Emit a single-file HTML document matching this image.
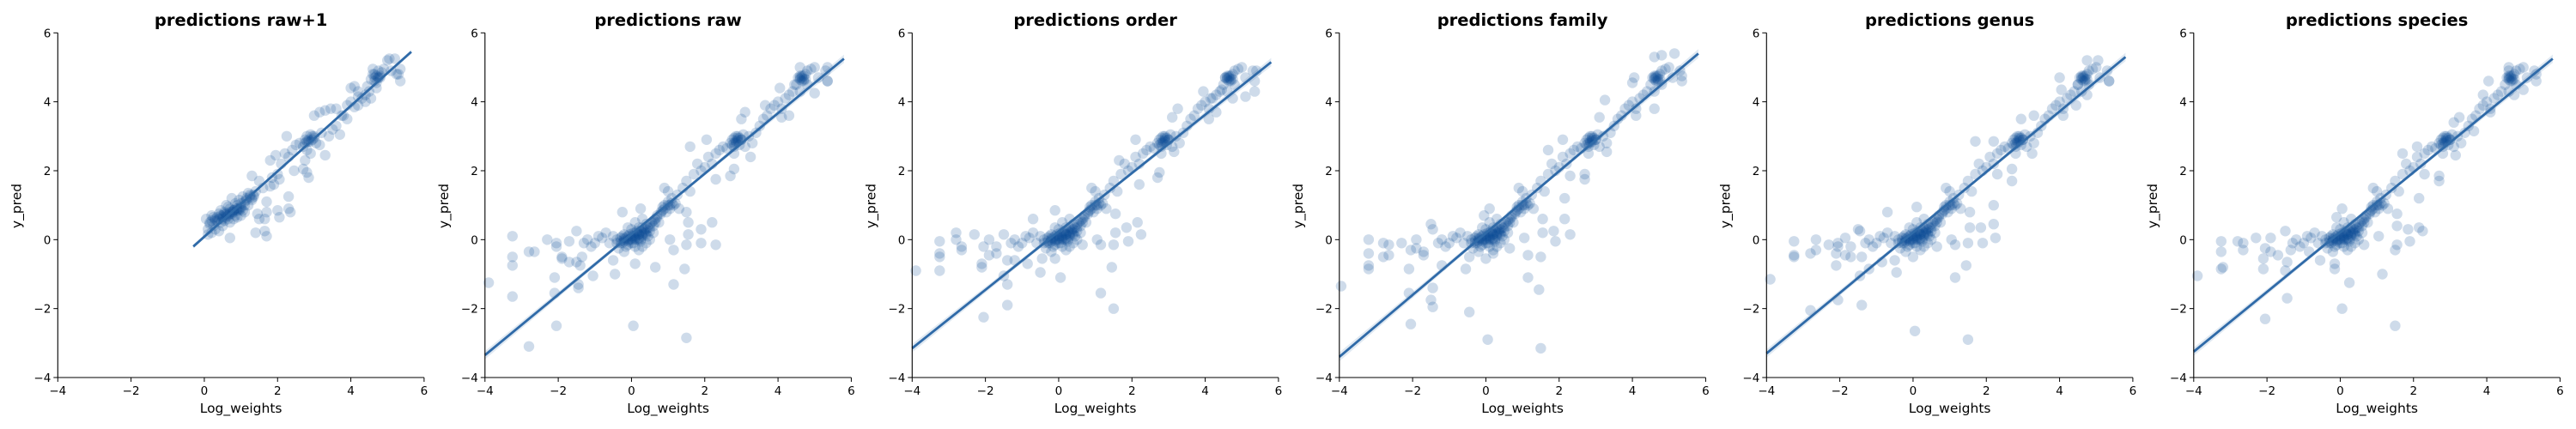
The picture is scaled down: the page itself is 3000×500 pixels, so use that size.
<!DOCTYPE html>
<html><head><meta charset="utf-8">
<style>
html,body{margin:0;padding:0;background:#fff;}
svg{display:block;font-family:"DejaVu Sans","Liberation Sans",sans-serif;}
</style></head>
<body>
<svg id="chart" width="3000" height="500" viewBox="0 0 3000 500" xmlns="http://www.w3.org/2000/svg"></svg>
<script>
const titles = ["predictions raw+1","predictions raw","predictions order","predictions family","predictions genus","predictions species"];
const xTicks = [-4,-2,0,2,4,6];
const yTicks = [-4,-2,0,2,4,6];
const xTickLabels = ["\u22124","\u22122","0","2","4","6"];
const yTickLabels = ["\u22124","\u22122","0","2","4","6"];
const fitX0 = [-0.3,-4,-4,-4,-4,-4];
const fitY0 = [-0.2,-3.35,-3.15,-3.4,-3.3,-3.25];
const fitX1 = [5.65,5.8,5.8,5.8,5.8,5.8];
const fitY1 = [5.45,5.25,5.15,5.4,5.3,5.25];
const ciHalf = [0.06,0.12,0.12,0.13,0.12,0.12];

const p1x = [0.05,0.1,0.15,0.2,0.25,0.3,0.35,0.4,0.45,0.5,0.55,0.6,0.65,0.7,0.75,0.8,0.85,0.9,0.95,1.0,1.05,1.1,1.15,1.2,1.25,1.3,1.35,1.4,0.1,0.2,0.3,0.5,0.7,0.6,0.75,0.9,1.0,1.1,0.4,0.25,0.55,0.85,0.95,1.05,1.2,0.45,0.65,0.8,
0.7,1.4,1.65,1.7,1.65,1.7,1.5,1.45,2.0,2.05,2.3,2.35,2.3,1.7,1.3,1.5,
1.6,1.8,1.9,1.85,2.0,2.05,1.8,1.95,2.1,2.2,2.3,2.4,2.5,2.45,2.25,2.6,2.7,2.75,2.8,2.85,2.9,2.95,3.0,3.05,2.8,2.9,2.7,2.8,2.85,2.75,3.15,3.3,3.2,3.4,3.5,3.6,3.7,3.0,3.15,3.3,3.45,3.6,3.75,3.9,4.0,4.1,4.2,4.3,4.0,4.1,4.2,4.4,4.45,4.5,4.55,4.6,4.65,4.7,4.75,4.8,4.85,4.9,4.6,4.7,4.55,5.0,5.05,5.2,5.1,5.25,5.35,5.35,5.3,4.65,4.75,3.9,3.8,4.2,4.4,
0.3,0.4,0.5,0.6,0.7,0.8,0.9,1.0,1.1,0.35,0.45,0.55,0.65,0.75,0.85,0.95,0.2,0.15,0.5,0.6,0.7,0.8,0.9,1.0,2.85,2.9,2.95,3.0,2.8,2.75,4.7,4.75,4.65,4.8,1.15,1.25,1.35,1.3];
const p1y = [0.6,0.3,0.5,0.7,0.4,0.6,0.55,0.75,0.5,0.65,0.8,0.7,0.6,0.9,0.75,0.85,0.7,1.0,0.9,1.05,0.85,1.1,1.2,1.0,1.3,1.15,1.25,1.4,0.15,0.2,0.3,0.4,0.5,1.0,1.2,0.65,0.7,0.8,0.25,0.65,0.55,1.05,1.15,1.25,1.35,0.85,0.95,0.6,
0.05,0.2,0.25,0.1,0.6,0.8,0.6,0.75,0.85,0.65,0.9,0.8,1.25,1.1,1.85,1.7,
1.5,1.55,1.6,1.8,1.9,1.75,2.3,2.45,2.2,2.5,2.4,2.6,2.75,2.0,3.0,2.8,2.7,2.9,3.0,2.85,3.05,2.9,3.0,2.8,2.6,2.5,2.05,1.95,1.8,2.3,2.75,2.45,3.1,3.0,3.2,3.3,3.05,3.6,3.7,3.75,3.8,3.8,3.6,3.9,4.0,3.85,4.15,4.1,4.4,4.45,4.3,4.2,4.45,4.3,4.65,4.8,4.7,4.55,4.9,4.75,4.85,4.95,4.95,4.4,4.1,5.2,5.25,5.25,4.9,4.8,4.95,4.6,4.8,4.6,4.7,3.5,3.6,3.9,4.0,
0.55,0.6,0.7,0.75,0.8,0.85,0.9,0.95,1.0,0.65,0.7,0.75,0.7,0.8,0.9,0.85,0.55,0.45,0.6,0.65,0.75,0.8,0.85,0.9,2.9,2.85,3.0,2.95,2.85,2.8,4.75,4.7,4.8,4.7,1.15,1.25,1.3,1.2];

const coreX = [-0.4,-0.3,-0.2,-0.1,0,0.1,0.2,0.3,0.4,-0.25,-0.15,-0.05,0.05,0.15,0.25,0.35,0.45,0.5,0.55,0.6,0.65,0.7,0.0,0.1,0.2,-0.35,-0.5,-0.6,-0.7,-0.8,-0.9,-1.0,-1.1,-1.2,-1.3,0.3,0.4,0.5,0.6,0.75,0.8,0.85,0.9,0.95,1.0,1.05,1.1,1.15,1.2,1.25,1.0,0.9,1.3,1.4,1.5,1.6,1.7,1.8,1.9,2.0,2.1,2.2,2.3,2.4,2.5,2.6,2.7,2.75,2.8,2.85,2.9,2.95,3.0,3.05,2.8,2.9,3.1,3.2,3.3,3.4,3.5,3.6,3.7,3.8,3.9,4.0,4.1,4.2,4.3,4.4,4.5,4.55,4.6,4.65,4.7,4.75,4.8,4.9,5.0,5.1,5.3,5.35,4.6,4.8,0.3,0.1,-0.1,0.2,-0.2,0.4,
-0.3,-0.1,0.1,0.3,0.0,0.2,-0.2,0.15,0.35,0.05,2.85,2.9,2.8,4.65,4.7,4.6];
const coreY = [0.0,-0.1,0.05,-0.05,0,0.1,0.05,0.15,0.2,0.1,-0.2,0.15,-0.1,0.25,-0.05,0.3,0.1,0.35,0.5,0.4,0.6,0.7,0.3,-0.2,0.35,-0.25,0.1,-0.1,0.2,0.05,0.1,-0.1,-0.2,0.0,-0.1,-0.2,0.45,0.0,0.2,0.5,0.8,0.95,1.0,0.8,1.1,0.9,1.2,1.0,1.05,1.3,1.4,1.5,0.9,1.5,1.7,1.4,1.9,2.2,2.0,2.1,2.4,2.2,2.5,2.6,2.7,2.65,2.8,2.9,2.7,3.0,2.85,2.75,2.9,3.05,2.5,2.95,2.7,3.0,2.8,3.1,3.3,3.5,3.6,3.8,3.9,4.0,3.8,4.1,4.2,4.3,4.5,4.7,4.65,4.75,4.6,4.8,4.9,4.95,5.0,4.7,4.9,4.6,4.3,4.5,0.6,0.5,0.35,-0.3,-0.35,-0.1,
0.05,0.0,0.05,0.2,0.1,0.15,-0.05,0.0,0.25,0.2,2.8,2.9,2.95,4.7,4.65,4.75];
// extra dense cluster points (panels 2-6)
const denseX = [-0.3,-0.2,-0.1,0.0,0.1,0.2,0.3,0.4,-0.25,-0.15,-0.05,0.05,0.15,0.25,0.35,0.45,-0.2,0.0,0.2,0.4,0.1,0.3,0.5,0.6,0.7,0.8,0.9,1.0,1.1,0.65,0.85,1.05,2.75,2.85,2.95,3.0,2.8,2.9,4.6,4.7,4.75,4.65,-0.4,-0.1,0.25,0.5];
const denseY = [-0.05,0.0,0.1,0.05,0.0,0.15,0.1,0.3,-0.1,0.05,0.0,0.1,0.2,0.25,0.2,0.35,0.15,-0.1,0.0,0.15,0.2,0.35,0.45,0.55,0.65,0.75,0.9,1.0,1.05,0.5,0.85,1.0,2.75,2.85,2.95,2.9,2.8,3.0,4.7,4.75,4.65,4.6,-0.1,-0.15,0.0,0.25];

const p2x = [-3.9,-3.25,-3.25,-3.25,-3.25,-2.8,-2.65,-2.8,-2.3,-2.05,-2.05,-2.1,-2.1,-2.05,-1.9,-1.9,-1.7,-1.7,-1.5,-1.5,-1.4,-1.35,-1.45,-1.45,-1.05,-0.45,-0.5,0.05,0.1,0.65,1.05,1.15,1.15,1.45,1.5,1.55,1.55,1.9,1.9,2.2,2.3,1.5,1.5,-0.25,0.25,2.3,1.6,2.05,2.7,2.8,3.25,3.1,3.0,3.65,4.05,4.1,4.3,4.45,4.6,5.0,5.35,5.35];
const p2y = [-1.25,0.1,-0.5,-0.75,-1.65,-0.35,-0.35,-3.1,0.0,-0.1,-0.2,-1.1,-1.55,-2.5,-0.5,-0.55,-0.05,-0.65,0.25,-0.65,-0.75,-0.5,-1.3,-1.4,-1.05,-1.0,-0.6,-2.5,-0.7,-0.8,0.0,-0.3,-1.3,-0.85,-0.15,0.15,0.5,0.3,-0.1,0.5,-0.15,-2.85,0.8,0.8,0.9,1.75,2.7,2.9,1.85,2.05,2.4,3.7,3.5,3.9,4.4,3.55,3.6,4.5,5.0,4.25,4.6,5.0];
const p3x = [-3.9,-3.25,-3.25,-3.25,-3.25,-2.8,-2.8,-2.65,-2.65,-2.3,-2.05,-2.1,-2.1,-2.05,-1.9,-1.9,-1.7,-1.7,-1.5,-1.4,-1.4,-1.4,-1.5,-1.2,-0.85,-0.5,-0.45,0.05,-0.1,0.65,1.05,1.15,1.15,1.45,1.5,1.55,1.55,1.85,1.9,2.15,2.25,1.5,-0.7,-0.1,2.2,1.65,2.1,2.7,2.75,3.15,3.25,3.1,3.95,4.15,4.1,4.3,4.45,4.55,5.1,5.35,5.4,4.75];
const p3y = [-0.9,-0.05,-0.4,-0.5,-0.9,0.2,0.0,-0.2,-0.3,0.15,-0.2,-0.7,-0.8,-2.25,0.0,-0.45,-0.2,-0.4,0.15,-0.6,-1.3,-1.9,-1.05,-0.6,-0.7,-0.95,-0.55,-1.1,-0.55,-0.15,0.0,-0.15,-1.55,-0.8,-0.15,0.2,0.75,0.35,-0.05,0.5,0.15,-2.0,0.6,0.85,1.6,2.3,2.9,1.8,1.95,2.55,3.8,3.55,4.3,4.1,3.5,3.7,4.35,4.7,4.15,4.3,4.9,4.1];
const p4x = [-3.95,-3.2,-3.2,-3.2,-3.2,-2.8,-2.8,-2.65,-2.65,-2.3,-2.05,-1.9,-2.1,-2.1,-2.05,-1.9,-1.7,-1.7,-1.5,-1.45,-1.45,-1.45,-1.5,-1.2,-0.55,-0.45,-0.45,0.05,0.0,0.2,0.65,1.05,1.15,1.15,1.45,1.5,1.55,1.55,1.85,1.9,2.15,2.3,1.5,-0.05,0.1,2.15,2.3,1.7,2.1,2.7,2.7,3.3,3.25,3.1,4.0,4.05,4.1,4.6,4.6,4.8,5.15,5.35];
const p4y = [-1.35,0.0,-0.4,-0.75,-0.85,-0.1,-0.5,-0.15,-0.45,-0.1,-0.3,0.0,-0.85,-1.55,-2.45,-0.25,-0.35,-0.45,0.45,0.3,-1.4,-1.95,-1.75,-0.75,-0.85,-2.1,-0.5,-2.9,-0.55,-0.4,-0.25,0.05,-0.45,-1.1,-1.45,-0.5,0.2,0.6,0.25,-0.05,0.6,0.15,-3.15,0.7,0.9,1.2,1.85,2.6,2.9,1.75,1.9,2.55,4.05,3.55,4.55,4.7,3.6,3.8,5.3,5.35,5.4,4.75];
const p5x = [-3.9,-3.25,-3.25,-3.25,-2.8,-2.65,-2.65,-2.8,-2.3,-2.05,-2.05,-2.1,-2.1,-2.05,-1.85,-1.85,-1.7,-1.7,-1.5,-1.45,-1.45,-1.4,-1.4,-1.2,-0.85,-0.45,-0.5,0.05,0.0,0.65,1.05,1.15,1.15,1.45,1.5,1.55,1.55,1.85,1.9,2.2,2.25,1.5,-0.7,0.1,2.2,2.3,1.7,2.2,2.7,2.7,3.25,3.3,2.95,4.0,4.05,4.1,4.45,4.5,4.75,5.05,5.35,4.75];
const p5y = [-1.15,-0.05,-0.45,-0.5,-0.4,0.0,-0.3,-2.05,-0.15,-0.1,-0.2,-0.75,-0.4,-1.75,0.05,-0.45,-0.2,-0.5,0.3,0.25,-1.05,-1.9,-0.5,-0.85,-0.65,-0.95,-0.6,-2.65,-0.5,-0.2,0.0,-0.15,-1.1,-0.75,-0.1,0.35,0.8,0.35,-0.1,0.45,0.05,-2.9,0.8,0.95,1.0,1.9,2.85,2.85,1.7,2.05,2.5,3.6,3.5,4.7,4.35,3.6,3.9,4.5,5.2,5.2,4.6,4.2];
const p6x = [-3.9,-3.25,-3.25,-3.25,-3.2,-2.8,-2.65,-2.65,-2.3,-2.05,-2.1,-2.1,-2.05,-1.9,-1.9,-1.7,-1.5,-1.45,-1.45,-1.5,-1.35,-0.85,-0.55,-0.15,-0.15,0.05,0.25,0.65,1.05,1.15,1.5,1.55,1.55,1.55,1.85,1.9,2.15,2.25,1.5,-0.1,0.05,2.15,2.7,2.7,2.3,1.7,2.1,3.15,3.1,3.25,3.65,4.05,3.9,4.1,4.6,4.6,5.0,5.35,4.75];
const p6y = [-1.05,-0.05,-0.35,-0.85,-0.8,-0.05,-0.1,-0.3,0.05,-0.25,-0.55,-0.85,-2.3,0.05,-0.35,-0.45,0.25,-0.65,-1.7,-0.9,-0.3,-0.35,-0.6,-0.85,-0.7,-2.0,-1.25,-0.15,0.1,-1.0,-0.3,-0.15,0.4,0.75,0.3,-0.05,0.35,0.25,-2.5,0.65,0.9,1.2,1.7,1.85,1.9,2.5,2.7,2.45,3.4,3.55,3.15,4.6,4.2,3.7,4.9,5.0,4.35,4.8,4.2];

const NS = "http://www.w3.org/2000/svg";
const svg = document.getElementById("chart");
const panelLeft0 = 67.3, panelStep = 497.5, panelW = 426.6, plotTop = 38.3, plotBottom = 440;
const xMin = -4, xMax = 6, yMin = -4, yMax = 6;
const ptColor = "#084a94", lineColor = "#2f6aa8";
const sharedX = coreX.concat(denseX), sharedY = coreY.concat(denseY);
const panelsX = [p1x, sharedX.concat(p2x), sharedX.concat(p3x), sharedX.concat(p4x), sharedX.concat(p5x), sharedX.concat(p6x)];
const panelsY = [p1y, sharedY.concat(p2y), sharedY.concat(p3y), sharedY.concat(p4y), sharedY.concat(p5y), sharedY.concat(p6y)];

function mk(tag, attrs, parent) {
  const e = document.createElementNS(NS, tag);
  for (const k in attrs) e.setAttribute(k, attrs[k]);
  parent.appendChild(e);
  return e;
}

for (let i = 0; i < 6; i++) {
  const L = panelLeft0 + panelStep * i, R = L + panelW;
  const sx = v => L + (v - xMin) / (xMax - xMin) * (R - L);
  const sy = v => plotBottom - (v - yMin) / (yMax - yMin) * (plotBottom - plotTop);
  const g = mk("g", {}, svg);
  
  

  const t = mk("text", {x: (L + R) / 2, y: 30, "text-anchor": "middle", "font-size": "19.5", "font-weight": "bold", fill: "#000"}, g);
  
  
  t.textContent = titles[i];

  const pts = mk("g", {}, g);
  
  
  const xs = panelsX[i], ys = panelsY[i];
  for (let k = 0; k < xs.length; k++) {
    const c = mk("circle", {cx: sx(xs[k]).toFixed(1), cy: sy(ys[k]).toFixed(1), r: 6.2, fill: ptColor, "fill-opacity": 0.2}, pts);
    
    
  }

  const h = ciHalf[i], hm = h * 0.3;
  const xm = (fitX0[i] + fitX1[i]) / 2, ym = (fitY0[i] + fitY1[i]) / 2;
  const band = mk("polygon", {points: [
    [sx(fitX0[i]), sy(fitY0[i] + h)], [sx(xm), sy(ym + hm)], [sx(fitX1[i]), sy(fitY1[i] + h)],
    [sx(fitX1[i]), sy(fitY1[i] - h)], [sx(xm), sy(ym - hm)], [sx(fitX0[i]), sy(fitY0[i] - h)]
  ].map(p => p[0].toFixed(1) + "," + p[1].toFixed(1)).join(" "), fill: lineColor, "fill-opacity": 0.15}, g);
  
  

  const ln = mk("line", {x1: sx(fitX0[i]), y1: sy(fitY0[i]), x2: sx(fitX1[i]), y2: sy(fitY1[i]), stroke: lineColor, "stroke-width": 2.8}, g);
  
  

  const ya = mk("line", {x1: L, y1: plotTop, x2: L, y2: plotBottom, stroke: "#000", "stroke-width": 1.1}, g);
  
  
  const xa = mk("line", {x1: L, y1: plotBottom, x2: R, y2: plotBottom, stroke: "#000", "stroke-width": 1.1}, g);
  
  

  for (let k = 0; k < xTicks.length; k++) {
    const x = sx(xTicks[k]);
    const tk = mk("line", {x1: x, y1: plotBottom, x2: x, y2: plotBottom + 5, stroke: "#000", "stroke-width": 1}, g);
    
    
    const tl = mk("text", {x: x, y: 460, "text-anchor": "middle", "font-size": "13.5", fill: "#000"}, g);
    
    
    tl.textContent = xTickLabels[k];
  }
  for (let k = 0; k < yTicks.length; k++) {
    const y = sy(yTicks[k]);
    const tk = mk("line", {x1: L - 5, y1: y, x2: L, y2: y, stroke: "#000", "stroke-width": 1}, g);
    
    
    const tl = mk("text", {x: L - 8, y: y + 5, "text-anchor": "end", "font-size": "13.5", fill: "#000"}, g);
    
    
    tl.textContent = yTickLabels[k];
  }

  const xl = mk("text", {x: (L + R) / 2, y: 481, "text-anchor": "middle", "font-size": "15.5", fill: "#000"}, g);
  
  
  xl.textContent = "Log_weights";
  const yx = L - 43, yy = 240;
  const yl = mk("text", {x: yx, y: yy, "text-anchor": "middle", "font-size": "15.5", fill: "#000", transform: "rotate(-90 " + yx + " " + yy + ")"}, g);
  
  
  yl.textContent = "y_pred";
}
</script>
</body></html>
